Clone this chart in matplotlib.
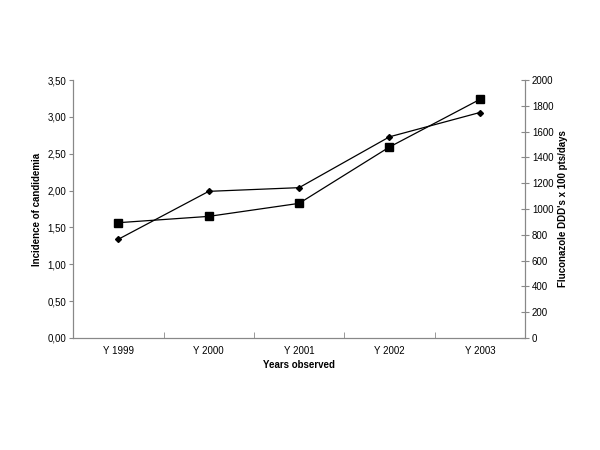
import numpy as np
import matplotlib.pyplot as plt
from matplotlib.ticker import FuncFormatter

plt.rcParams['font.family'] = ['Liberation Sans', 'DejaVu Sans']

years = ['Y 1999', 'Y 2000', 'Y 2001', 'Y 2002', 'Y 2003']
incidence = [1.34, 1.99, 2.04, 2.73, 3.06]
fluconazole = [894, 943, 1044, 1481, 1850]

grey = '#888888'
x = np.arange(len(years))

fig = plt.figure(figsize=(6, 4.5), dpi=100)
ax = fig.add_axes([0.122, 0.249, 0.753, 0.573])
ax2 = ax.twinx()

ax.plot(x, incidence, '-', color='black', lw=0.9, marker='D', markersize=3)
ax2.plot(x, fluconazole, '-', color='black', lw=0.9, marker='s', markersize=6)

ax.set_xlim(-0.5, len(years) - 0.5)
ax.set_ylim(0, 3.5)
ax.set_yticks(np.arange(0, 3.51, 0.5))
ax.yaxis.set_major_formatter(FuncFormatter(lambda v, p: ('%.2f' % v).replace('.', ',')))
ax2.set_ylim(0, 2000)
ax2.set_yticks(np.arange(0, 2001, 200))

ax.set_xticks(x)
ax.set_xticklabels(years)
ax.set_xticks(np.arange(0.5, len(years) - 1, 1), minor=True)
ax.tick_params(axis='x', which='major', length=0, pad=6)
ax.tick_params(axis='x', which='minor', direction='in', length=4, color=grey)
ax.tick_params(axis='y', length=3, pad=2, color=grey, labelsize=7)
ax.tick_params(axis='x', labelsize=7)
ax2.tick_params(axis='y', direction='inout', length=6, pad=2, color=grey, labelsize=7)

for a in (ax, ax2):
    a.spines['top'].set_visible(False)
    for s in ('left', 'right', 'bottom'):
        a.spines[s].set_color(grey)
        a.spines[s].set_linewidth(0.8)

ax.set_xlabel('Years observed', fontsize=7, fontweight='bold', labelpad=3)
ax.set_ylabel('Incidence of candidemia', fontsize=7, fontweight='bold')
ax.yaxis.set_label_coords(-0.068, 0.5)
ax2.set_ylabel("Fluconazole DDD's x 100 pts/days", fontsize=7, fontweight='bold')
ax2.yaxis.set_label_coords(1.074, 0.5)

fig.savefig('out.png', dpi=100)
